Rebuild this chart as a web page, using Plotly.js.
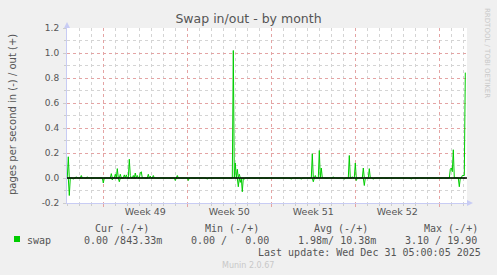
<!DOCTYPE html>
<html>
<head>
<meta charset="utf-8">
<script src="https://cdn.plot.ly/plotly-3.0.1.min.js"></script>
<style>
html,body{margin:0;padding:0;background:#f0f0f0;}
#chart{width:497px;height:275px;}
</style>
</head>
<body>
<div id="chart"></div>
<script>
// ---- data (2-hour samples; unlisted samples are 0) ----
const outTimes = ['2025-11-28 02:00','2025-11-28 18:00','2025-11-29 04:00','2025-11-29 16:00',
  '2025-12-01 16:00','2025-12-02 00:00','2025-12-02 04:00','2025-12-02 10:00','2025-12-02 18:00',
  '2025-12-02 22:00','2025-12-03 04:00','2025-12-03 06:00','2025-12-03 12:00','2025-12-03 16:00',
  '2025-12-03 20:00','2025-12-04 02:00','2025-12-04 04:00','2025-12-04 18:00','2025-12-04 22:00',
  '2025-12-05 04:00','2025-12-07 04:00','2025-12-11 20:00','2025-12-12 00:00','2025-12-12 04:00',
  '2025-12-12 08:00','2025-12-18 10:00','2025-12-18 16:00','2025-12-19 00:00','2025-12-19 04:00',
  '2025-12-20 04:00','2025-12-21 12:00','2025-12-21 18:00','2025-12-22 00:00','2025-12-22 16:00',
  '2025-12-23 04:00','2025-12-29 22:00','2025-12-30 00:00','2025-12-30 02:00','2025-12-30 04:00',
  '2025-12-30 22:00','2025-12-31 00:00','2025-12-31 02:00','2025-12-31 04:00'];
const outValues = [0.17,0.01,0.02,0.01,
  0.035,0.03,0.075,0.03,0.025,
  0.025,0.15,0.02,0.02,0.04,
  0.02,0.04,0.05,0.03,0.015,
  0.02,0.02,1.02,0.12,0.07,
  0.03,0.195,0.02,0.22,0.08,
  0.01,0.18,0.01,0.12,0.08,
  0.075,0.07,0.08,0.05,0.226,
  0.02,0.02,0.02,0.843];
const inTimes = ['2025-11-28 04:00','2025-11-28 12:00','2025-12-01 00:00','2025-12-01 18:00',
  '2025-12-02 08:00','2025-12-07 00:00','2025-12-08 02:00','2025-12-09 16:00','2025-12-12 06:00',
  '2025-12-12 10:00','2025-12-12 14:00','2025-12-12 18:00','2025-12-16 16:00','2025-12-17 12:00',
  '2025-12-18 12:00','2025-12-21 02:00','2025-12-22 02:00','2025-12-22 18:00','2025-12-23 12:00',
  '2025-12-26 16:00','2025-12-30 16:00'];
const inValues = [0.14,0.01,0.04,0.015,
  0.03,0.02,0.02,0.01,0.07,
  0.035,0.11,0.01,0.01,0.01,
  0.03,0.01,0.02,0.06,0.01,
  0.01,0.07];
const sampleStart = '2025-11-28 00:00';
const sampleEnd = '2025-12-31 04:00';
const weekStarts = ['2025-12-01','2025-12-08','2025-12-15','2025-12-22','2025-12-29'];
const weekLabelPos = ['2025-12-04 12:00','2025-12-11 12:00','2025-12-18 12:00','2025-12-25 12:00'];
const weekLabels = ['Week 49','Week 50','Week 51','Week 52'];
const yTickVals = [-0.2,0,0.2,0.4,0.6,0.8,1.0,1.2];
const yTickText = ['-0.2','0.0','0.2','0.4','0.6','0.8','1.0','1.2'];
const legendHead = ['Cur (-/+)','Min (-/+)','Avg (-/+)','Max (-/+)'];
const legendVals = ['0.00 /843.33m','0.00 /   0.00','1.98m/ 10.38m','3.10 / 19.90'];
const seriesName = 'swap';
const lastUpdate = 'Last update: Wed Dec 31 05:00:05 2025';

// ---- build the 2-hourly series ----
const toMs = s => Date.parse(s.replace(' ','T') + ':00Z');
const fmt = ms => new Date(ms).toISOString().slice(0,16).replace('T',' ');
const outMap = {}; outTimes.forEach((t,i)=>outMap[toMs(t)] = outValues[i]);
const inMap = {}; inTimes.forEach((t,i)=>inMap[toMs(t)] = inValues[i]);
const xs = [], yOut = [], yIn = [];
for (let t = toMs(sampleStart); t <= toMs(sampleEnd); t += 2*3600*1000) {
  xs.push(fmt(t));
  yOut.push(outMap[t] !== undefined ? outMap[t] : 0);
  yIn.push(inMap[t] !== undefined ? -inMap[t] : 0);
}

const green = '#00cc00';
const L = 67, R = 467, T = 28, B = 203;
const px = v => (v - L) / (R - L);
const py = v => 1 - (v - T) / (B - T);
const txt = '#555555';
const mono = {family:'DejaVu Sans Mono', size:10, color:txt};

const traces = [
  {x: xs, y: yIn, type:'scatter', mode:'lines', line:{color:green, width:1}, hoverinfo:'skip', showlegend:false},
  {x: xs, y: yOut, type:'scatter', mode:'lines', line:{color:green, width:1}, hoverinfo:'skip', showlegend:false},
  {x: weekLabelPos, y: weekLabelPos.map(()=>null), xaxis:'x2', type:'scatter', mode:'markers', hoverinfo:'skip', showlegend:false}
];

const xRange = ['2025-11-27 23:24','2025-12-31 07:24'];
const annotations = [];
legendHead.forEach((h,i)=>{
  const lefts = [94,204,313,423];
  annotations.push({text:h, xref:'paper', yref:'paper', x:px(lefts[i]), y:py(228), xanchor:'left', yanchor:'middle', showarrow:false, font:mono, borderpad:0});
});
legendVals.forEach((h,i)=>{
  const lefts = [83,190,297,404];
  annotations.push({text:h.replace(/ /g,'&nbsp;'), xref:'paper', yref:'paper', x:px(lefts[i]), y:py(240), xanchor:'left', yanchor:'middle', showarrow:false, font:mono, borderpad:0});
});
annotations.push({text:seriesName, xref:'paper', yref:'paper', x:px(26), y:py(240), xanchor:'left', yanchor:'middle', showarrow:false, font:mono, borderpad:0});
annotations.push({text:lastUpdate, xref:'paper', yref:'paper', x:px(482), y:py(252), xanchor:'right', yanchor:'middle', showarrow:false, font:mono, borderpad:0});
annotations.push({text:'Munin 2.0.67', xref:'paper', yref:'paper', x:px(248), y:py(265), xanchor:'center', yanchor:'middle', showarrow:false, font:{family:'DejaVu Sans', size:8, color:'#c8c8c8'}, borderpad:0});
annotations.push({text:'RRDTOOL / TOBI OETIKER', xref:'paper', yref:'paper', x:px(487), y:py(53), xanchor:'center', yanchor:'middle', textangle:90, showarrow:false, font:{family:'DejaVu Sans', size:7, color:'#c8c8c8'}, borderpad:0});
annotations.push({text:'pages per second in (-) / out (+)', xref:'paper', yref:'paper', x:px(12), y:py(115), xanchor:'center', yanchor:'middle', textangle:-90, showarrow:false, font:{family:'DejaVu Sans', size:10, color:txt}, borderpad:0});

const axisBlue = '#c8ccf4';
const shapes = [
  {type:'rect', xref:'paper', yref:'paper', x0:px(14), x1:px(20), y0:py(242), y1:py(236), fillcolor:green, line:{width:0}},
  {type:'line', xref:'paper', yref:'y', x0:0, x1:1, y0:0, y1:0, line:{color:'#000000', width:1.5}, layer:'above'},
  {type:'path', xref:'paper', yref:'paper', path:`M ${px(64)} ${py(28)} L ${px(70)} ${py(28)} L ${px(67)} ${py(22)} Z`, fillcolor:axisBlue, line:{width:0}},
  {type:'path', xref:'paper', yref:'paper', path:`M ${px(467)} ${py(200)} L ${px(467)} ${py(206)} L ${px(473)} ${py(203)} Z`, fillcolor:axisBlue, line:{width:0}}
];

const layout = {
  width:497, height:275,
  paper_bgcolor:'#f0f0f0', plot_bgcolor:'#ffffff',
  margin:{l:L, r:497-R, t:T, b:275-B},
  showlegend:false,
  title:{text:'Swap in/out - by month', x:0.5, xanchor:'center', y:1-19/275, yanchor:'middle', font:{family:'DejaVu Sans', size:12.5, color:txt}},
  xaxis:{type:'date', range:xRange, tickmode:'array', tickvals:weekStarts, ticktext:weekStarts.map(()=>''),
    showgrid:true, gridcolor:'#e4a4a4', griddash:'dot', gridwidth:1,
    ticks:'outside', ticklen:3, tickcolor:'#e4a4a4',
    minor:{dtick:86400000, tick0:'2025-12-01', showgrid:true, gridcolor:'#d4d4d4', griddash:'dot', gridwidth:1, ticks:'outside', ticklen:2, tickcolor:'#cccccc'},
    showline:true, linecolor:axisBlue, linewidth:1, zeroline:false, fixedrange:true},
  xaxis2:{type:'date', overlaying:'x', anchor:'y', side:'bottom', range:xRange, tickmode:'array', tickvals:weekLabelPos, ticktext:weekLabels,
    showgrid:false, zeroline:false, showline:false, ticks:'', ticklabelstandoff:1,
    tickfont:{family:'DejaVu Sans', size:9.5, color:txt}, fixedrange:true},
  yaxis:{range:[-0.2,1.2], tickmode:'array', tickvals:yTickVals, ticktext:yTickText,
    showgrid:true, gridcolor:'#e4a4a4', griddash:'dot', gridwidth:1,
    minor:{dtick:0.1, tick0:0, showgrid:true, gridcolor:'#d4d4d4', griddash:'dot', gridwidth:1, ticks:'outside', ticklen:2, tickcolor:'#cccccc'},
    ticks:'outside', ticklen:3, tickcolor:'#cccccc',
    tickfont:{family:'DejaVu Sans', size:9, color:txt}, ticklabelstandoff:2,
    showline:true, linecolor:axisBlue, linewidth:1, zeroline:false, fixedrange:true},
  annotations:annotations,
  shapes:shapes
};
Plotly.newPlot('chart', traces, layout, {staticPlot:true, displayModeBar:false});
</script>
</body>
</html>
